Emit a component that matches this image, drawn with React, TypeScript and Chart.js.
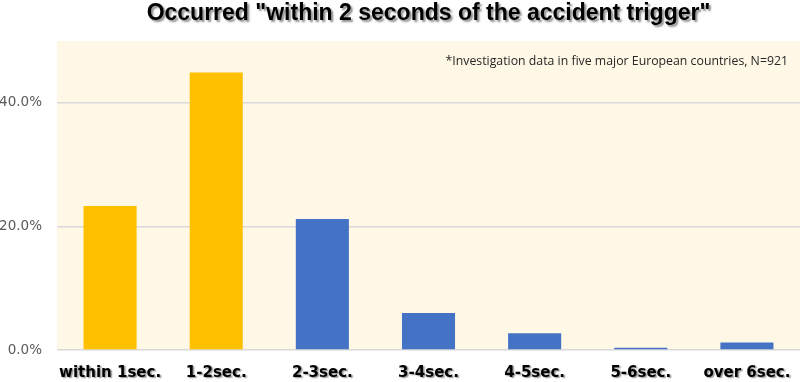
import React, { useEffect, useRef } from "react";
import { Chart, registerables } from "chart.js";

Chart.register(...registerables);

const categories = ["within 1sec.", "1-2sec.", "2-3sec.", "3-4sec.", "4-5sec.", "5-6sec.", "over 6sec."];
const shares = [23.3, 44.9, 21.2, 6.0, 2.7, 0.35, 1.2];
const barColors = ["#FFC000", "#FFC000", "#4472C4", "#4472C4", "#4472C4", "#4472C4", "#4472C4"];
const yTicks = [0, 20, 40];
const yMax = 50;
const titleText = 'Occurred "within 2 seconds of the accident trigger"';
const noteText = "*Investigation data in five major European countries, N=921";

const decorPlugin = {
  id: "decor",
  beforeDraw(chart: any) {
    const { ctx, chartArea } = chart;
    ctx.save();
    ctx.fillStyle = "#FFF8E6";
    ctx.fillRect(chartArea.left, chartArea.top, chartArea.right - chartArea.left, chartArea.bottom - chartArea.top);
    ctx.restore();
  },
  afterDraw(chart: any) {
    const { ctx, chartArea } = chart;
    const xScale = chart.scales.x;
    // title
    ctx.save();
    ctx.font = "bold 23px 'Liberation Sans', Arial, sans-serif";
    ctx.textAlign = "center";
    ctx.textBaseline = "alphabetic";
    ctx.shadowColor = "rgba(0,0,0,0.45)";
    ctx.shadowOffsetX = 2;
    ctx.shadowOffsetY = 2;
    ctx.shadowBlur = 2;
    ctx.fillStyle = "#000000";
    ctx.fillText(titleText, (chartArea.left + chartArea.right) / 2, 20);
    ctx.restore();
    // note
    ctx.save();
    ctx.font = "12.3px 'Open Sans', 'Noto Sans', sans-serif";
    ctx.textAlign = "right";
    ctx.textBaseline = "middle";
    ctx.fillStyle = "#262626";
    ctx.fillText(noteText, chartArea.right - 12, 61);
    ctx.restore();
    // x labels
    ctx.save();
    ctx.font = "bold 15px 'DejaVu Sans', 'Noto Sans', sans-serif";
    ctx.textAlign = "center";
    ctx.textBaseline = "middle";
    ctx.shadowColor = "rgba(0,0,0,0.45)";
    ctx.shadowOffsetX = 1.5;
    ctx.shadowOffsetY = 1.5;
    ctx.shadowBlur = 1.5;
    ctx.fillStyle = "#000000";
    categories.forEach((c, i) => {
      ctx.fillText(c, xScale.getPixelForValue(i), chartArea.bottom + 23);
    });
    ctx.restore();
  },
};

export default function App() {
  const ref = useRef<HTMLCanvasElement | null>(null);
  useEffect(() => {
    if (!ref.current) return;
    const chart = new Chart(ref.current, {
      type: "bar",
      data: {
        labels: categories,
        datasets: [
          {
            data: shares,
            backgroundColor: barColors,
            borderWidth: 0,
            barPercentage: 0.5,
            categoryPercentage: 1,
          },
        ],
      },
      options: {
        responsive: false,
        animation: false,
        layout: { padding: { top: 41, left: 0, right: 0, bottom: 0 } },
        plugins: {
          legend: { display: false },
          title: { display: false },
          tooltip: { enabled: false },
        },
        scales: {
          x: {
            grid: { display: false },
            border: { display: false },
            ticks: { display: false },
            afterFit: (s: any) => {
              s.height = 32;
            },
          },
          y: {
            min: 0,
            max: yMax,
            afterBuildTicks: (s: any) => {
              s.ticks = yTicks.map((v) => ({ value: v }));
            },
            grid: { color: "#D9D9D9", lineWidth: 1.5, drawTicks: false },
            border: { display: false },
            ticks: {
              padding: 15,
              color: "#595959",
              font: { family: "'DejaVu Sans', 'Noto Sans', sans-serif", size: 13.5 },
              callback: (v: any) => Number(v).toFixed(1) + "%",
            },
            afterFit: (s: any) => {
              s.width = 57;
            },
          },
        },
      },
      plugins: [decorPlugin],
    });
    return () => chart.destroy();
  }, []);
  return (
    <div style={{ position: "fixed", left: 0, top: 0, width: 800, height: 382, background: "#fff" }}>
      <canvas ref={ref} width={800} height={382} />
    </div>
  );
}
